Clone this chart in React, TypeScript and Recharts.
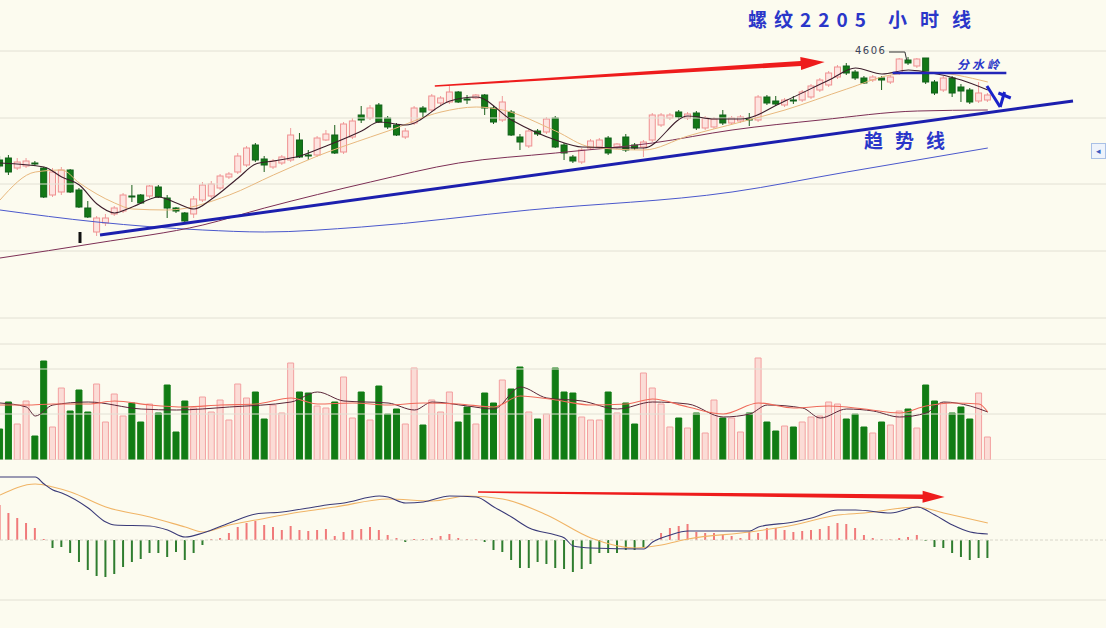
import React from 'react';
import { ComposedChart, Bar, Line, XAxis, YAxis, ReferenceLine, Cell } from 'recharts';

// hourly candles, index 0..112
const opens = [
  4503, 4505, 4495, 4497, 4500, 4495, 4468, 4471, 4493, 4473,
  4455, 4431, 4440, 4449, 4452, 4467, 4468, 4467, 4476, 4465,
  4455, 4450, 4449, 4463, 4467, 4475, 4486, 4491, 4498, 4518,
  4504, 4496, 4500, 4503, 4523, 4508, 4508, 4523, 4528, 4511,
  4526, 4548, 4545, 4558, 4545, 4538, 4526, 4540, 4555, 4553,
  4560, 4561, 4571, 4564, 4565, 4568, 4555, 4543, 4551, 4526,
  4517, 4532, 4531, 4545, 4518, 4506, 4501, 4515, 4516, 4525,
  4516, 4526, 4518, 4516, 4523, 4538, 4545, 4551, 4545, 4550,
  4535, 4536, 4548, 4540, 4542, 4544, 4543, 4566, 4562, 4558,
  4563, 4563, 4566, 4573, 4578, 4586, 4597, 4591, 4585, 4583,
  4585, 4581, 4590, 4603, 4597, 4605, 4581, 4573, 4585, 4576,
  4573, 4562, 4563,
];
const closes = [
  4497, 4491, 4501, 4502, 4499, 4466, 4491, 4493, 4471, 4456,
  4446, 4445, 4445, 4455, 4468, 4466, 4460, 4477, 4466, 4455,
  4452, 4442, 4464, 4478, 4479, 4487, 4489, 4507, 4515, 4503,
  4498, 4502, 4506, 4528, 4506, 4507, 4525, 4529, 4510, 4539,
  4542, 4543, 4555, 4541, 4536, 4528, 4532, 4555, 4551, 4567,
  4565, 4571, 4561, 4563, 4568, 4555, 4541, 4561, 4528, 4521,
  4532, 4529, 4544, 4516, 4510, 4502, 4513, 4522, 4523, 4510,
  4519, 4513, 4515, 4521, 4548, 4548, 4548, 4546, 4549, 4535,
  4545, 4544, 4540, 4545, 4546, 4543, 4566, 4560, 4559, 4563,
  4562, 4571, 4577, 4583, 4590, 4596, 4590, 4585, 4580, 4586,
  4583, 4586, 4604, 4600, 4604, 4581, 4570, 4585, 4570, 4572,
  4561, 4570, 4568,
];
const highs = [
  4507, 4508, 4505, 4505, 4502, 4496, 4495, 4496, 4494, 4475,
  4462, 4447, 4449, 4457, 4470, 4478, 4469, 4478, 4478, 4468,
  4456, 4451, 4467, 4481, 4482, 4489, 4491, 4510, 4517, 4520,
  4507, 4504, 4508, 4535, 4530, 4513, 4527, 4533, 4538, 4541,
  4545, 4557, 4558, 4560, 4547, 4540, 4535, 4557, 4557, 4569,
  4567, 4577, 4572, 4568, 4569, 4569, 4557, 4567, 4553, 4529,
  4534, 4534, 4546, 4547, 4520, 4508, 4515, 4524, 4525, 4527,
  4520, 4529, 4520, 4523, 4550, 4550, 4550, 4553, 4551, 4552,
  4547, 4546, 4553, 4547, 4548, 4550, 4568, 4568, 4567, 4565,
  4567, 4573, 4579, 4585, 4592, 4598, 4600, 4593, 4587, 4588,
  4587, 4588, 4605, 4606, 4605, 4605, 4583, 4587, 4587, 4579,
  4575, 4581, 4570,
];
const lows = [
  4495, 4488, 4493, 4495, 4497, 4465, 4466, 4468, 4470, 4455,
  4445, 4427, 4437, 4447, 4450, 4461, 4459, 4465, 4465, 4445,
  4450, 4440, 4445, 4461, 4465, 4473, 4484, 4489, 4496, 4501,
  4491, 4494, 4498, 4501, 4505, 4503, 4506, 4522, 4509, 4509,
  4524, 4540, 4543, 4540, 4534, 4527, 4524, 4538, 4546, 4551,
  4558, 4559, 4560, 4559, 4564, 4548, 4539, 4541, 4527, 4513,
  4515, 4527, 4529, 4515, 4503, 4500, 4499, 4513, 4514, 4508,
  4514, 4511, 4513, 4506, 4521, 4536, 4543, 4544, 4543, 4533,
  4533, 4534, 4538, 4538, 4540, 4537, 4541, 4558, 4557, 4556,
  4559, 4561, 4564, 4571, 4576, 4584, 4588, 4583, 4579, 4581,
  4573, 4579, 4588, 4598, 4595, 4579, 4568, 4571, 4566, 4561,
  4559, 4560, 4561,
];
const volumes = [
  3100, 5800, 3600, 5900, 2400, 9900, 3300, 7200, 4900, 7000,
  4800, 7600, 3800, 6600, 4400, 5700, 3800, 5600, 4700, 7500,
  2800, 5900, 5200, 6300, 4800, 6000, 4000, 7600, 6200, 6800,
  4100, 5500, 4700, 9700, 6800, 6700, 5400, 5200, 5800, 8300,
  4200, 6800, 4000, 7400, 4600, 5100, 3600, 9200, 3500, 6000,
  4800, 6800, 3800, 5300, 3600, 6700, 5700, 8000, 7100, 9300,
  4800, 4100, 4600, 9200, 6800, 6700, 4300, 4000, 4000, 6800,
  4700, 5700, 3600, 8700, 7200, 5600, 3300, 4200, 3200, 4700,
  2700, 6000, 4200, 4200, 2800, 4700, 10200, 3800, 2900, 3400,
  3300, 3800, 4300, 4400, 5800, 5600, 4100, 4600, 3300, 2700,
  3800, 3500, 4900, 5100, 3200, 7500, 5900, 5700, 4700, 5300,
  4100, 6700, 2300,
];
const macdHist = [
  17.5, 13.5, 11, 8.5, 6, 0.5, -4, -3.5, -6.5, -11,
  -15, -18, -18.5, -17, -13.5, -11, -9.5, -6.5, -6.5, -8.5,
  -6, -10, -6.5, -2.5, 0.5, 1, 3.5, 6.5, 8.5, 9.5,
  7.5, 6.5, 5, 7, 5, 4.5, 5, 5.5, 2, 4,
  5, 5.5, 6.5, 5, 2.5, 1, -1, 0.5, 0.5, 1,
  2, 3, 1, 0.5, 0.5, -1, -5, -6, -10, -14,
  -14, -11, -12, -14, -14.5, -16, -14.5, -12, -6.5, -6.5,
  -6.5, -5, -5, -4, 0.3, 3.5, 6, 7, 8, 4,
  3.5, 3.5, 2.5, 2, 1, 4, 3.5, 6, 6, 5,
  4, 4.5, 5, 5.5, 7, 8.5, 8, 6, 2.5, 1,
  0.5, 0.3, 1, 1.5, 2.5, -0.5, -3.5, -4, -6.5, -8.5,
  -10, -9, -9,
];

// moving averages at selected bars: [index, value]
const maShort = [
  [0, 4500], [5, 4496], [7, 4486], [9, 4478], [11, 4459], [13, 4450], [15, 4456], [18, 4466],
  [20, 4460], [22, 4454], [24, 4464], [27, 4485], [29, 4499], [31, 4502], [34, 4507], [37, 4517],
  [41, 4532], [43, 4541], [46, 4538], [51, 4562], [54, 4566], [58, 4543], [63, 4523], [66, 4516],
  [73, 4515], [78, 4547], [81, 4544], [84, 4544], [89, 4562], [94, 4583], [97, 4595], [100, 4589],
  [103, 4593], [105, 4591], [109, 4583], [112, 4573],
];
const maMid = [
  [0, 4463], [4, 4491], [7, 4493], [9, 4480], [13, 4460], [15, 4454], [19, 4453], [26, 4468],
  [31, 4488], [36, 4507], [42, 4526], [44, 4532], [50, 4551], [54, 4556], [57, 4553], [63, 4532],
  [67, 4516], [73, 4513], [78, 4527], [84, 4541], [89, 4553], [96, 4574], [101, 4588], [105, 4591],
  [112, 4581],
];
const ma60 = [
  [0, 4405], [11, 4420], [23, 4438], [30, 4455], [42, 4481], [52, 4500], [63, 4510], [74, 4520],
  [83, 4533], [93, 4543], [104, 4552], [112, 4553],
];
const ma120 = [
  [0, 4453], [11, 4441], [23, 4433], [30, 4431], [41, 4436], [60, 4453], [83, 4471], [96, 4491],
  [112, 4515],
];
const volMaA = [
  [0, 5700], [3, 5300], [4, 4400], [6, 5500], [10, 5800], [16, 5100], [20, 5000], [26, 5300],
  [33, 5800], [36, 6800], [39, 5900], [44, 5700], [47, 5000], [49, 5800], [53, 5400], [56, 5100],
  [59, 7300], [62, 6200], [66, 5900], [70, 5100], [74, 5800], [78, 5600], [82, 4300], [85, 4600],
  [87, 5500], [91, 5200], [93, 4200], [96, 5100], [99, 4900], [102, 4300], [105, 4700], [107, 5800],
  [110, 5400], [112, 4800],
];
const volMaB = [
  [0, 5500], [3, 5500], [6, 5600], [10, 5600], [13, 5900], [17, 5500], [21, 5300], [25, 5500],
  [29, 5600], [33, 6200], [36, 5600], [40, 5700], [44, 5500], [48, 5700], [52, 5600], [56, 5300],
  [59, 6400], [63, 6000], [67, 5500], [71, 5600], [74, 6100], [78, 5300], [82, 4600], [86, 5700],
  [90, 5200], [94, 5400], [98, 5100], [102, 4700], [105, 5400], [108, 5700], [111, 5600], [112, 4800],
];
const dif = [
  [0, 31.5], [4, 31.5], [5, 28], [6, 25], [7, 23.5], [10, 16], [12, 9], [13, 7.5], [17, 7], [19, 5],
  [21, 1.5], [23, 3.5], [26, 8.5], [29, 13], [32, 14], [35, 16], [37, 17.5], [39, 18.5], [43, 22],
  [44, 21.5], [46, 18.5], [48, 19], [51, 22], [54, 21.5], [56, 16.5], [58, 11.5], [60, 6], [63, 2.5],
  [64, 1], [65, -3], [67, -4], [73, -4.5], [74, -1], [76, 2.5], [78, 4.5], [85, 4.5], [86, 6.5],
  [90, 9], [92, 11], [95, 15], [97, 15], [101, 13.5], [104, 16.5], [106, 12.5], [108, 7.5],
  [110, 4], [112, 3],
];
const dea = [
  [0, 22.5], [4, 28], [6, 26.5], [8, 24], [12, 16.5], [17, 11.5], [21, 6.5], [23, 4], [26, 7.5],
  [29, 10], [34, 14], [38, 16.5], [44, 20.5], [49, 19.5], [53, 22], [57, 20.5], [62, 12.5], [67, 1],
  [72, -4], [75, -2.5], [78, 0.5], [85, 4], [90, 7.5], [95, 12.5], [98, 13.5], [104, 16.5],
  [107, 13.5], [112, 8.5],
];

const priceGrid = [4612, 4545, 4479, 4412, 4345];
const volGrid = [11600, 9100, 4600, 0];
const X_DOMAIN = [0, 125.4];

const pick = (pairs: number[][], i: number) => {
  const f = pairs.find((p) => p[0] === i);
  return f ? f[1] : null;
};

const rows = opens.map((o, i) => ({
  i,
  o,
  c: closes[i],
  h: highs[i],
  l: lows[i],
  vol: volumes[i],
  hist: macdHist[i],
  maShort: pick(maShort, i),
  maMid: pick(maMid, i),
  ma60: pick(ma60, i),
  ma120: pick(ma120, i),
  volMaA: pick(volMaA, i),
  volMaB: pick(volMaB, i),
  dif: pick(dif, i),
  dea: pick(dea, i),
}));

const Candle = (props: any) => {
  const { x, y, width, height, payload } = props;
  if (!payload || y == null) return null;
  const { o, c, h, l } = payload;
  const top = Math.min(y, y + height);
  const span = Math.abs(height);
  const py = (p: number) => (h === l ? top : top + ((h - p) / (h - l)) * span);
  const up = c >= o;
  const cx = x + width / 2;
  const bTop = py(Math.max(o, c));
  const bBot = py(Math.min(o, c));
  return (
    <g>
      <line x1={cx} x2={cx} y1={top} y2={top + span} stroke={up ? '#f09c9c' : '#1b5f1b'} strokeWidth={1} />
      <rect
        x={x}
        y={bTop}
        width={width}
        height={Math.max(1, bBot - bTop)}
        fill={up ? '#fde4e0' : '#137816'}
        stroke={up ? '#ef9090' : '#10601a'}
        strokeWidth={1}
      />
    </g>
  );
};

const taperArrow = (w0: number, w1: number, head: number, half: number, color: string) => (props: any) => {
  const { x1, y1, x2, y2 } = props;
  const dx = x2 - x1;
  const dy = y2 - y1;
  const len = Math.hypot(dx, dy) || 1;
  const ux = dx / len;
  const uy = dy / len;
  const nx = -uy;
  const ny = ux;
  const bx = x2 - ux * head;
  const by = y2 - uy * head;
  const pts = [
    [x1 + (nx * w0) / 2, y1 + (ny * w0) / 2],
    [bx + (nx * w1) / 2, by + (ny * w1) / 2],
    [bx + nx * half, by + ny * half],
    [x2, y2],
    [bx - nx * half, by - ny * half],
    [bx - (nx * w1) / 2, by - (ny * w1) / 2],
    [x1 - (nx * w0) / 2, y1 - (ny * w0) / 2],
  ];
  return <polygon points={pts.map((p) => p.join(',')).join(' ')} fill={color} />;
};

const blue = '#1c1fae';
const textBlue = '#2a36c9';
const gridColor = '#e2e0d4';

export default function App() {
  return (
    <div
      style={{
        position: 'relative',
        width: 1106,
        height: 628,
        background: '#fcfbef',
        overflow: 'hidden',
        fontFamily: '"Noto Sans CJK SC", "Noto Sans", sans-serif',
      }}
    >
      <style>{'body{margin:0}'}</style>

      {/* price panel */}
      <div style={{ position: 'absolute', left: 0, top: 0 }}>
        <ComposedChart width={1106} height={335} data={rows} margin={{ top: 0, right: 0, bottom: 0, left: 0 }}>
          <XAxis dataKey="i" type="number" domain={X_DOMAIN} allowDataOverflow hide />
          <YAxis domain={[4328, 4663]} allowDataOverflow hide />
          {priceGrid.map((p) => (
            <ReferenceLine key={p} y={p} stroke={gridColor} strokeWidth={1} />
          ))}
          <Line dataKey="ma120" type="monotone" stroke="#4b58cc" strokeWidth={1} dot={false} activeDot={false} connectNulls isAnimationActive={false} />
          <Line dataKey="ma60" type="monotone" stroke="#7d2f55" strokeWidth={1} dot={false} activeDot={false} connectNulls isAnimationActive={false} />
          <Line dataKey="maMid" type="monotone" stroke="#e8b87e" strokeWidth={1} dot={false} activeDot={false} connectNulls isAnimationActive={false} />
          <Bar dataKey={(d: any) => [d.l, d.h]} barSize={6} shape={Candle} isAnimationActive={false} />
          <Line dataKey="maShort" type="monotone" stroke="#3d1d2b" strokeWidth={1.1} dot={false} activeDot={false} connectNulls isAnimationActive={false} />
          {/* trend line */}
          <ReferenceLine segment={[{ x: 11.34, y: 4428 }, { x: 121.66, y: 4562 }]} stroke={blue} strokeWidth={3} />
          {/* upward arrow over the highs */}
          <ReferenceLine segment={[{ x: 49.3, y: 4577 }, { x: 93.5, y: 4601 }]} shape={taperArrow(1.5, 5, 24, 6.5, '#ee1c1c')} />
          {/* watershed level */}
          <ReferenceLine segment={[{ x: 101.2, y: 4590 }, { x: 114.1, y: 4590 }]} stroke="#2326b8" strokeWidth={2.5} />
          {/* 4606 leader */}
          <ReferenceLine segment={[{ x: 100.8, y: 4611 }, { x: 102.6, y: 4611 }]} stroke="#333" strokeWidth={1} />
          <ReferenceLine segment={[{ x: 102.6, y: 4611 }, { x: 102.8, y: 4603 }]} stroke="#333" strokeWidth={1} />
          {/* check mark */}
          <ReferenceLine segment={[{ x: 111.9, y: 4577 }, { x: 113.4, y: 4556 }]} stroke="#1a22c8" strokeWidth={3} />
          <ReferenceLine segment={[{ x: 113.4, y: 4556 }, { x: 113.9, y: 4571 }]} stroke="#1a22c8" strokeWidth={3} />
          <ReferenceLine segment={[{ x: 113.2, y: 4570 }, { x: 114.6, y: 4565 }]} stroke="#1a22c8" strokeWidth={3} />
          {/* low marker */}
          <ReferenceLine segment={[{ x: 9.07, y: 4431 }, { x: 9.07, y: 4420 }]} stroke="#111" strokeWidth={3} />
        </ComposedChart>
      </div>

      {/* volume panel */}
      <div style={{ position: 'absolute', left: 0, top: 340 }}>
        <ComposedChart width={1106} height={120} data={rows} margin={{ top: 0, right: 0, bottom: 0, left: 0 }}>
          <XAxis dataKey="i" type="number" domain={X_DOMAIN} allowDataOverflow hide />
          <YAxis domain={[0, 12000]} allowDataOverflow hide />
          {volGrid.map((v) => (
            <ReferenceLine key={v} y={v} stroke={gridColor} strokeWidth={1} />
          ))}
          <Bar dataKey="vol" barSize={6} isAnimationActive={false}>
            {rows.map((r) => (
              <Cell
                key={r.i}
                fill={r.c >= r.o ? '#fbdcd6' : '#117c14'}
                stroke={r.c >= r.o ? '#f3a0a0' : '#117c14'}
              />
            ))}
          </Bar>
          <Line dataKey="volMaA" type="monotone" stroke="#5a2638" strokeWidth={1} dot={false} activeDot={false} connectNulls isAnimationActive={false} />
          <Line dataKey="volMaB" type="monotone" stroke="#ef6a5a" strokeWidth={1.1} dot={false} activeDot={false} connectNulls isAnimationActive={false} />
        </ComposedChart>
      </div>

      {/* MACD panel */}
      <div style={{ position: 'absolute', left: 0, top: 470 }}>
        <ComposedChart width={1106} height={140} data={rows} margin={{ top: 0, right: 0, bottom: 0, left: 0 }}>
          <XAxis dataKey="i" type="number" domain={X_DOMAIN} allowDataOverflow hide />
          <YAxis domain={[-35, 35]} allowDataOverflow hide />
          <ReferenceLine y={0} stroke="#d8d6ca" strokeWidth={1} strokeDasharray="3 2" />
          <ReferenceLine y={-30} stroke={gridColor} strokeWidth={1} />
          <Bar dataKey="hist" barSize={2} isAnimationActive={false}>
            {rows.map((r) => (
              <Cell key={r.i} fill={r.hist >= 0 ? '#f07a7a' : '#2f7d2f'} />
            ))}
          </Bar>
          <Line dataKey="dea" type="monotone" stroke="#f0b466" strokeWidth={1.1} dot={false} activeDot={false} connectNulls isAnimationActive={false} />
          <Line dataKey="dif" type="monotone" stroke="#3a3a78" strokeWidth={1.1} dot={false} activeDot={false} connectNulls isAnimationActive={false} />
          <ReferenceLine segment={[{ x: 54.2, y: 24 }, { x: 107.1, y: 21.5 }]} shape={taperArrow(1.5, 4.5, 22, 6, '#ee1c1c')} />
        </ComposedChart>
      </div>

      {/* annotations */}
      <div style={{ position: 'absolute', left: 748, top: 8, color: textBlue, fontSize: 19, fontWeight: 700, lineHeight: '21px', letterSpacing: 7, whiteSpace: 'nowrap' }}>
        螺纹2205
      </div>
      <div style={{ position: 'absolute', left: 888, top: 8, color: textBlue, fontSize: 19, fontWeight: 700, lineHeight: '21px', letterSpacing: 13, whiteSpace: 'nowrap' }}>
        小时线
      </div>
      <div style={{ position: 'absolute', left: 864, top: 129, color: textBlue, fontSize: 19, fontWeight: 700, lineHeight: '21px', letterSpacing: 12, whiteSpace: 'nowrap' }}>
        趋势线
      </div>
      <div style={{ position: 'absolute', left: 957, top: 57, color: textBlue, fontSize: 12, fontWeight: 700, lineHeight: '14px', letterSpacing: 3, fontStyle: 'italic', whiteSpace: 'nowrap' }}>
        分水岭
      </div>
      <div style={{ position: 'absolute', left: 855, top: 45, color: '#3b4258', fontSize: 10, lineHeight: '12px', letterSpacing: 1.5, fontFamily: '"DejaVu Sans", sans-serif' }}>
        4606
      </div>
      <div
        style={{
          position: 'absolute',
          left: 1091,
          top: 143,
          width: 13,
          height: 14,
          border: '1px solid #a9c0e6',
          background: '#eef3fb',
          color: '#3a5bc0',
          fontSize: 9,
          lineHeight: '14px',
          textAlign: 'center',
        }}
      >
        ◂
      </div>
    </div>
  );
}
